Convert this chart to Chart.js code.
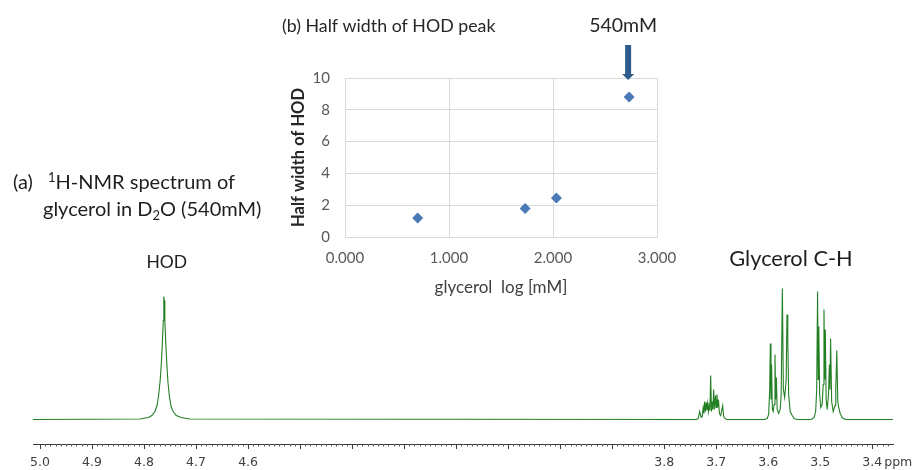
<!DOCTYPE html>
<html><head><meta charset="utf-8">
<script src="https://cdn.jsdelivr.net/npm/chart.js@4.4.1/dist/chart.umd.min.js"></script>
<style>
html,body{margin:0;padding:0;background:#fff;}
#wrap{position:relative;width:918px;height:470px;overflow:hidden;}
canvas{position:absolute;left:0;top:0;}
#inset{pointer-events:none;}
</style></head><body>
<div id="wrap"><canvas id="spec" width="918" height="470"></canvas><canvas id="inset" width="918" height="470"></canvas></div>
<script>
// ---------- (a) 1H-NMR spectrum: [ppm, relative intensity] ----------
const spectrumEnds = [[5.0135, 0], [3.360, 0]];
const hodPeak = [[4.808,0.5],[4.792,2],[4.785,4],[4.779,8],[4.775,14],[4.772,24],[4.769,39],[4.767,54],[4.765,74],[4.763,99],[4.762,123],[4.761,119],[4.760,99],[4.758,74],[4.756,54],[4.754,37],[4.751,22],[4.748,13],[4.744,8],[4.738,4],[4.729,2],[4.712,0.5]];
const multiplet37 = [[3.7385,0],[3.7346,1],[3.7317,8],[3.7288,2],[3.7269,3],[3.7250,12],[3.7235,6],[3.7221,18],[3.7208,8],[3.7192,17],[3.7177,9],[3.7163,16],[3.7148,8],[3.7135,14],[3.7119,9],[3.7106,44],[3.7090,8],[3.7077,18],[3.7062,10],[3.7048,30],[3.7033,10],[3.7013,24],[3.7000,12],[3.6985,25],[3.6971,12],[3.6956,20],[3.6937,6],[3.6913,4],[3.6875,14],[3.6856,3],[3.6827,1],[3.6788,0]];
const glycerolA = [[3.6077,0],[3.6019,1],[3.5990,5],[3.5971,30],[3.5958,76],[3.5946,20],[3.5935,55],[3.5919,10],[3.5904,8],[3.5885,15],[3.5869,65],[3.5856,20],[3.5842,42],[3.5827,10],[3.5798,6],[3.5769,10],[3.5750,25],[3.5727,131],[3.5708,30],[3.5683,22],[3.5654,40],[3.5638,105],[3.5623,80],[3.5606,25],[3.5577,8],[3.5538,4],[3.5500,1],[3.5442,0]];
const glycerolB = [[3.5173,0],[3.5115,2],[3.5087,8],[3.5067,30],[3.5050,128],[3.5038,40],[3.5027,93],[3.5010,25],[3.4990,12],[3.4962,15],[3.4942,35],[3.4927,110],[3.4913,40],[3.4902,90],[3.4885,20],[3.4865,10],[3.4840,25],[3.4823,55],[3.4812,30],[3.4800,81],[3.4779,18],[3.4750,8],[3.4715,14],[3.4700,30],[3.4681,69],[3.4662,18],[3.4635,10],[3.4615,6],[3.4577,2],[3.4519,0]];
const ppmTickLabels = ['5.0','4.9','4.8','4.7','4.6','3.8','3.7','3.6','3.5','3.4'];

// ---------- (b) Half width of HOD peak ----------
const glycerolLog = [0.699, 1.732, 2.033, 2.732];
const halfWidth = [1.2, 1.8, 2.45, 8.8];
const logTickLabels = ['0.000','1.000','2.000','3.000'];
const halfWidthTicks = [0, 2, 4, 6, 8, 10];

const FONT = 'Lato';
const isMajor = v => Math.abs(v * 10 - Math.round(v * 10)) < 1e-6;
const labelFor = v => { const s = v.toFixed(1); return (isMajor(v) && ppmTickLabels.includes(s)) ? s : ''; };

function drawParts(ctx, x, y, parts) {
  let cx = x;
  parts.forEach(p => {
    ctx.font = (p.weight || '') + ' ' + p.size + 'px ' + FONT;
    if (p.x !== undefined) cx = p.x;
    ctx.fillText(p.t, cx, y + (p.dy || 0));
    cx += ctx.measureText(p.t).width;
  });
}

const specPlugin = {
  id: 'specDeco',
  afterDraw(chart) {
    const ctx = chart.ctx, xs = chart.scales.x;
    ctx.save();
    // minor ticks
    ctx.strokeStyle = '#555'; ctx.lineWidth = 1;
    ctx.beginPath();
    xs.ticks.forEach(t => {
      if (!isMajor(t.value)) {
        const px = Math.round(xs.getPixelForValue(t.value)) + 0.5;
        ctx.moveTo(px, xs.top); ctx.lineTo(px, xs.top + 2.5);
      }
    });
    ctx.stroke();
    // unit
    ctx.fillStyle = '#404040'; ctx.textBaseline = 'middle'; ctx.textAlign = 'left';
    ctx.font = '12.5px DejaVu Sans';
    ctx.fillText('ppm', xs.getPixelForValue(3.4) + 12, 463);
    // annotations
    ctx.fillStyle = '#1e1e1e'; ctx.textBaseline = 'alphabetic';
    drawParts(ctx, 13, 189, [{t:'(a)', size:20}, {t:'1', size:13, dy:-7, x:48}, {t:'H-NMR spectrum of', size:20}]);
    drawParts(ctx, 43, 216, [{t:'glycerol in D', size:20}, {t:'2', size:13, dy:4}, {t:'O (540mM)', size:20}]);
    ctx.textAlign = 'center';
    ctx.font = '17.5px ' + FONT;
    ctx.fillText('HOD', xs.getPixelForValue(4.762) + 3, 268);
    ctx.font = '21.8px ' + FONT;
    ctx.fillText('Glycerol C-H', 791, 266);
    ctx.restore();
  }
};

const specData = [spectrumEnds[0], ...hodPeak, ...multiplet37, ...glycerolA, ...glycerolB, spectrumEnds[1]].map(p => ({x: p[0], y: p[1]}));

new Chart(document.getElementById('spec'), {
  type: 'line',
  data: { datasets: [{ data: specData, borderColor: '#237f23', borderWidth: 1.1, pointRadius: 0, tension: 0, fill: false }] },
  options: {
    responsive: false, animation: false, devicePixelRatio: 1,
    layout: { padding: { left: 33, right: 25, top: 250, bottom: 0 } },
    plugins: { legend: { display: false }, tooltip: { enabled: false } },
    scales: {
      x: {
        type: 'linear', reverse: true, min: 3.36, max: 5.0135,
        afterBuildTicks: s => { const t = []; for (let i = 337; i <= 500; i++) t.push({ value: i / 100 }); s.ticks = t; },
        afterFit: s => { s.height = 26; },
        grid: { drawOnChartArea: false, drawTicks: true, tickLength: 5, tickWidth: 1,
                tickColor: c => (c.tick && isMajor(c.tick.value)) ? '#3a3a3a' : 'rgba(0,0,0,0)' },
        border: { display: true, color: '#3a3a3a', width: 1 },
        ticks: { autoSkip: false, maxRotation: 0, minRotation: 0, padding: 6.5, color: '#404040',
                 font: { family: 'DejaVu Sans', size: 12.5 }, callback: v => labelFor(v) }
      },
      y: { display: false, min: -24.5, max: 169.5 }
    }
  },
  plugins: [specPlugin]
});

const insetPlugin = {
  id: 'insetDeco',
  afterDraw(chart) {
    const ctx = chart.ctx, xs = chart.scales.x;
    ctx.save();
    ctx.fillStyle = '#262626'; ctx.textBaseline = 'alphabetic'; ctx.textAlign = 'left';
    ctx.font = '17.8px ' + FONT;
    ctx.fillText('(b) Half width of HOD peak', 282, 32);
    const ax = xs.getPixelForValue(glycerolLog[3]) - 1;
    ctx.textAlign = 'center';
    ctx.font = '19.5px ' + FONT;
    ctx.fillText('540mM', ax - 5, 32);
    // arrow
    ctx.fillStyle = '#2f5b8e';
    ctx.fillRect(ax - 3, 45, 6, 30);
    ctx.beginPath();
    ctx.moveTo(ax - 6, 74); ctx.lineTo(ax + 6, 74); ctx.lineTo(ax, 80); ctx.closePath();
    ctx.fill();
    ctx.restore();
  }
};

new Chart(document.getElementById('inset'), {
  type: 'scatter',
  data: { datasets: [{ data: glycerolLog.map((x, i) => ({ x, y: halfWidth[i] })), pointStyle: 'rectRot', pointRadius: 5.5,
                       backgroundColor: '#4a7ab5', borderColor: '#4a7ab5', borderWidth: 0 }] },
  options: {
    responsive: false, animation: false, devicePixelRatio: 1,
    layout: { padding: { left: 289, top: 78, right: 261, bottom: 172.4 } },
    plugins: { legend: { display: false }, tooltip: { enabled: false } },
    scales: {
      x: {
        type: 'linear', min: 0, max: 3,
        afterBuildTicks: s => { s.ticks = logTickLabels.map(l => ({ value: parseFloat(l) })); },
        afterFit: s => { s.height = 60.6; },
        grid: { color: '#d9d9d9', drawTicks: false },
        border: { color: '#d9d9d9' },
        ticks: { padding: 12, color: '#595959', font: { family: FONT, size: 15 }, callback: (v, i) => logTickLabels[i] },
        title: { display: true, text: 'glycerol  log [mM]', color: '#404040', font: { family: FONT, size: 17 }, padding: 0 }
      },
      y: {
        min: 0, max: 10,
        afterBuildTicks: s => { s.ticks = halfWidthTicks.map(v => ({ value: v })); },
        afterFit: s => { s.width = 56; },
        grid: { color: '#d9d9d9', drawTicks: false },
        border: { color: '#d9d9d9' },
        ticks: { padding: 15, color: '#595959', font: { family: FONT, size: 15 } },
        title: { display: true, text: 'Half width of HOD', color: '#262626', font: { family: FONT, size: 16.5, weight: 'bold' }, padding: 0 }
      }
    }
  },
  plugins: [insetPlugin]
});
</script>
</body></html>
